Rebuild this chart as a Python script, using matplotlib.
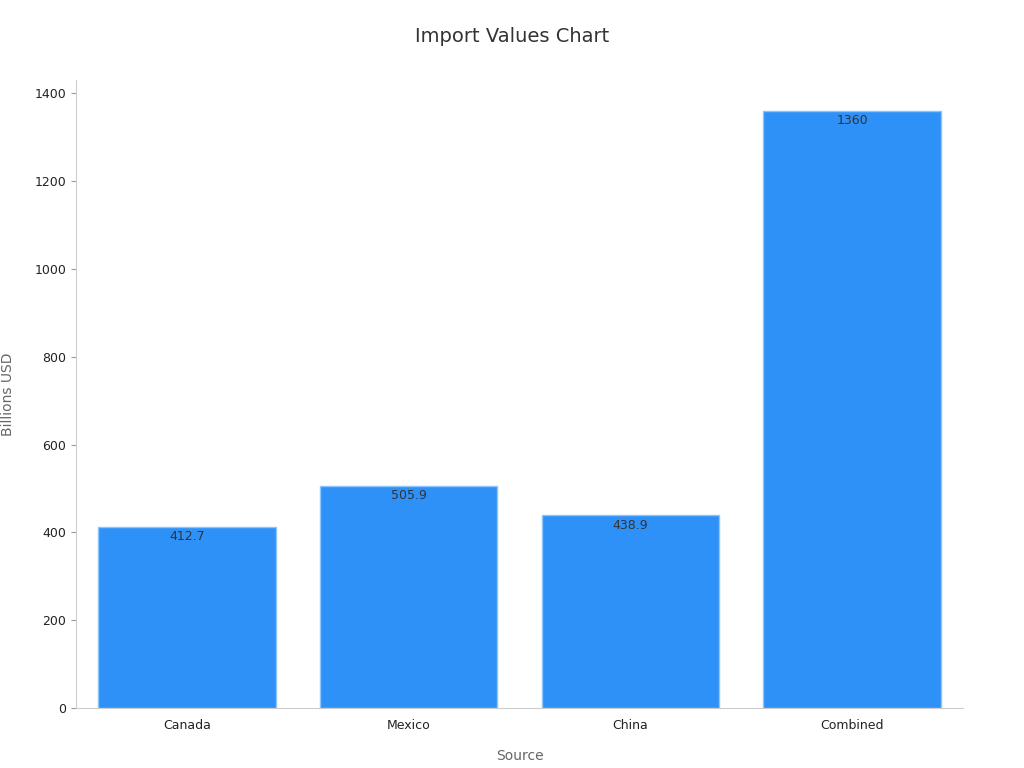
import matplotlib.pyplot as plt

sources = ["Canada", "Mexico", "China", "Combined"]
values = [412.7, 505.9, 438.9, 1360]
labels = ["412.7", "505.9", "438.9", "1360"]

fig = plt.figure(figsize=(10.24, 7.68), dpi=100)
ax = fig.add_axes([0.0742, 0.078, 0.8662, 0.818])

bars = ax.bar(range(len(sources)), values, width=0.8, color="#2e91f8",
              edgecolor="#8cc4fb", linewidth=1)
for b, lab in zip(bars, labels):
    ax.text(b.get_x() + b.get_width() / 2, b.get_height() - 8, lab,
            ha="center", va="top", fontsize=9, color="#333333")

ax.set_xticks(range(len(sources)))
ax.set_xticklabels(sources, fontsize=9, color="#222222")
ax.set_xlim(-0.5, 3.5)
ax.set_ylim(0, 1430)
ax.set_yticks(range(0, 1401, 200))
ax.tick_params(axis="y", labelsize=9, labelcolor="#222222", color="#999999")
ax.tick_params(axis="x", length=0, pad=8)
for s in ["top", "right"]:
    ax.spines[s].set_visible(False)
for s in ["left", "bottom"]:
    ax.spines[s].set_color("#cccccc")

ax.set_xlabel("Source", fontsize=10, color="#666666", labelpad=12)
ax.set_ylabel("Billions USD", fontsize=10, color="#666666", labelpad=14)
fig.suptitle("Import Values Chart", fontsize=14, color="#333333", y=0.965)

fig.savefig("out.png")
